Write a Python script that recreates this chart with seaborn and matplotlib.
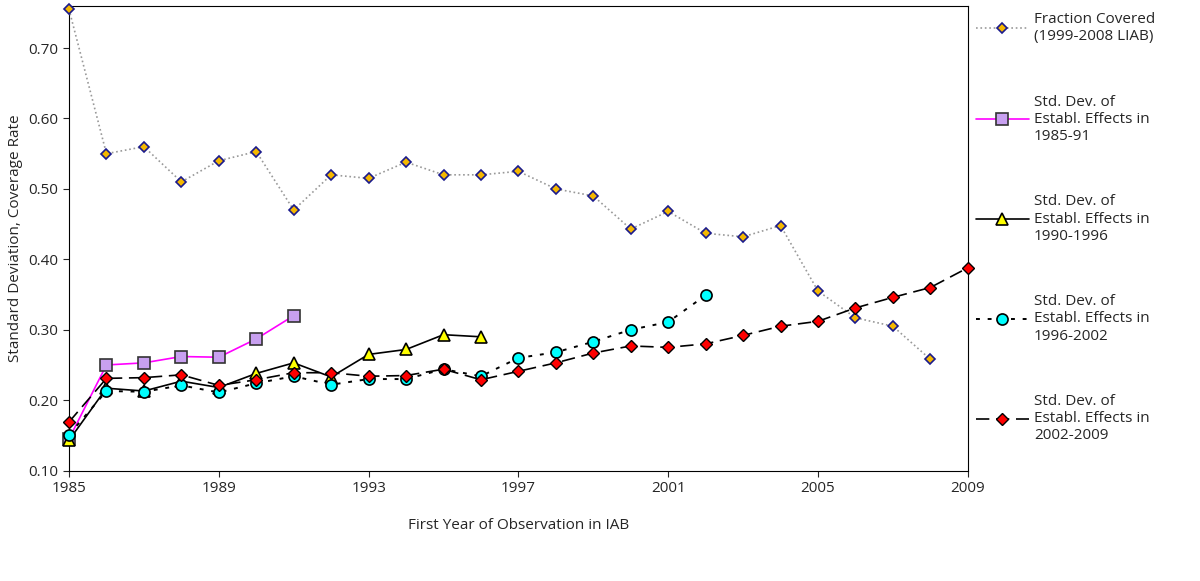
import matplotlib
matplotlib.use("Agg")
import matplotlib.pyplot as plt
import seaborn as sns
import pandas as pd

sns.set_style("white")
plt.rcParams["font.family"] = ["Open Sans", "DejaVu Sans"]

years = list(range(1985, 2010))
fraction_covered = [0.755, 0.55, 0.56, 0.51, 0.54, 0.553, 0.47, 0.52, 0.515, 0.538, 0.52, 0.52,
                    0.525, 0.50, 0.49, 0.443, 0.468, 0.437, 0.432, 0.448, 0.355, 0.317, 0.305, 0.258]
sd_1985_91 = [0.145, 0.25, 0.253, 0.262, 0.261, 0.287, 0.32]
sd_1990_96 = [0.143, 0.217, 0.213, 0.227, 0.218, 0.238, 0.253, 0.233, 0.265, 0.272, 0.293, 0.29]
sd_1996_02 = [0.151, 0.213, 0.212, 0.221, 0.211, 0.224, 0.234, 0.222, 0.23, 0.23, 0.244, 0.234,
              0.26, 0.268, 0.283, 0.30, 0.311, 0.349]
sd_2002_09 = [0.169, 0.231, 0.232, 0.236, 0.221, 0.229, 0.239, 0.239, 0.234, 0.235, 0.244, 0.229,
              0.241, 0.253, 0.267, 0.277, 0.275, 0.28, 0.292, 0.305, 0.312, 0.331, 0.346, 0.36, 0.388]

series = [
    ("Fraction Covered\n(1999-2008 LIAB)", fraction_covered,
     dict(color="#999999", ls=":", lw=1.2, marker="D", ms=5.5, mfc="#f5b800", mec="#1a1a8c", mew=1.2)),
    ("Std. Dev. of\nEstabl. Effects in\n1985-91", sd_1985_91,
     dict(color="#ff00ff", ls="-", lw=1.2, marker="s", ms=8, mfc="#c8a0f0", mec="#333333", mew=1.2)),
    ("Std. Dev. of\nEstabl. Effects in\n1990-1996", sd_1990_96,
     dict(color="black", ls="-", lw=1.2, marker="^", ms=8, mfc="#ffff00", mec="black", mew=1.2)),
    ("Std. Dev. of\nEstabl. Effects in\n1996-2002", sd_1996_02,
     dict(color="black", ls=(0, (2, 4)), lw=1.4, marker="o", ms=8, mfc="#00ffff", mec="black", mew=1.2)),
    ("Std. Dev. of\nEstabl. Effects in\n2002-2009", sd_2002_09,
     dict(color="black", ls=(0, (8, 4)), lw=1.2, marker="D", ms=6, mfc="#ff0000", mec="black", mew=1.0)),
]

fig = plt.figure(figsize=(12, 5.81), dpi=100)
ax = fig.add_axes([0.0575, 0.19, 0.749, 0.80])
handles = []
for label, vals, style in series:
    df = pd.DataFrame({"year": years[:len(vals)], "value": vals})
    sns.lineplot(data=df, x="year", y="value", ax=ax, label=label, clip_on=False, zorder=3, **style)
    handles.append(ax.lines[-1])

ax.set_xlim(1985, 2009)
ax.set_ylim(0.10, 0.76)
ax.set_xticks(range(1985, 2010, 4))
ax.set_yticks([0.1, 0.2, 0.3, 0.4, 0.5, 0.6, 0.7])
ax.set_yticklabels([f"{v:.2f}" for v in ax.get_yticks()])
ax.tick_params(labelsize=11, direction="out", length=4, left=True, bottom=True)
ax.set_xlabel("First Year of Observation in IAB", fontsize=11, labelpad=16)
ax.set_ylabel("Standard Deviation, Coverage Rate", fontsize=11)
for s in ax.spines.values():
    s.set_color("black")
ax.legend_.remove()
fig.legend(handles=handles, labels=[s[0] for s in series], loc="upper left",
           bbox_to_anchor=(0.808, 0.99), frameon=False, fontsize=11, handlelength=3.5,
           handletextpad=0.3, labelspacing=3.3, borderaxespad=0)

fig.savefig("out.png", dpi=100)
